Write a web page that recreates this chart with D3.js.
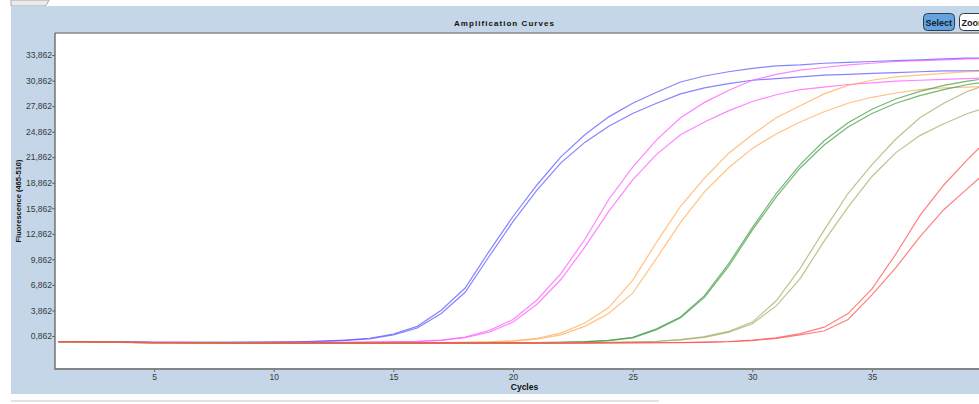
<!DOCTYPE html>
<html>
<head>
<meta charset="utf-8">
<script src="https://cdn.jsdelivr.net/npm/d3@7"></script>
<style>
  body { margin: 0; background: #ffffff; overflow: hidden; }
  svg { display: block; font-family: 'Liberation Sans', Arial, sans-serif; }
</style>
</head>
<body>
<svg id="chart" width="979" height="404"></svg>
<script>
// cycles on the x axis
var cycles = [1, 2, 3, 4, 5, 6, 7, 8, 9, 10, 11, 12, 13, 14, 15, 16, 17, 18, 19, 20,
  21, 22, 23, 24, 25, 26, 27, 28, 29, 30, 31, 32, 33, 34, 35, 36, 37, 38, 39, 40];

// fluorescence (465-510) per cycle, two replicates per sample
var blueA = [0.20, 0.19, 0.18, 0.14, 0.12, 0.12, 0.12, 0.13, 0.14, 0.16, 0.19, 0.26, 0.38, 0.60, 1.10, 2.00, 3.90, 6.50, 10.8, 14.9,
  18.6, 21.9, 24.5, 26.6, 28.2, 29.5, 30.7, 31.4, 31.9, 32.3, 32.6, 32.7, 32.9, 33.0, 33.1, 33.2, 33.3, 33.4, 33.5, 33.5];
var blueB = [0.21, 0.19, 0.17, 0.14, 0.12, 0.11, 0.11, 0.12, 0.13, 0.15, 0.18, 0.24, 0.35, 0.52, 1.00, 1.80, 3.50, 6.00, 10.2, 14.3,
  18.0, 21.2, 23.6, 25.5, 27.0, 28.2, 29.3, 30.0, 30.5, 30.9, 31.1, 31.3, 31.5, 31.6, 31.7, 31.8, 31.9, 32.0, 32.0, 32.1];
var magentaA = [0.20, 0.19, 0.17, 0.13, 0.11, 0.11, 0.10, 0.10, 0.10, 0.11, 0.11, 0.12, 0.13, 0.15, 0.18, 0.24, 0.38, 0.75, 1.50, 2.80,
  5.10, 8.20, 12.2, 16.9, 20.7, 23.9, 26.5, 28.3, 29.7, 30.9, 31.6, 32.1, 32.4, 32.7, 32.9, 33.1, 33.2, 33.3, 33.4, 33.5];
var magentaB = [0.19, 0.18, 0.16, 0.12, 0.10, 0.10, 0.09, 0.09, 0.09, 0.10, 0.10, 0.11, 0.12, 0.14, 0.17, 0.22, 0.34, 0.68, 1.30, 2.50,
  4.60, 7.50, 11.3, 15.5, 19.2, 22.2, 24.5, 26.0, 27.3, 28.4, 29.2, 29.8, 30.1, 30.4, 30.6, 30.8, 30.9, 31.0, 31.1, 31.2];
var orangeA = [0.19, 0.18, 0.15, 0.11, 0.08, 0.07, 0.07, 0.06, 0.06, 0.06, 0.06, 0.07, 0.07, 0.08, 0.08, 0.09, 0.10, 0.13, 0.18, 0.30,
  0.60, 1.20, 2.40, 4.20, 7.40, 11.9, 16.1, 19.4, 22.3, 24.5, 26.5, 27.9, 29.3, 30.3, 30.9, 31.3, 31.5, 31.7, 31.9, 32.0];
var orangeB = [0.18, 0.17, 0.14, 0.10, 0.07, 0.06, 0.06, 0.05, 0.05, 0.05, 0.06, 0.06, 0.06, 0.07, 0.07, 0.08, 0.09, 0.11, 0.16, 0.25,
  0.50, 1.00, 2.00, 3.50, 5.90, 10.0, 14.2, 17.8, 20.6, 22.9, 24.6, 26.0, 27.2, 28.2, 28.9, 29.4, 29.8, 30.0, 30.1, 30.2];
var greenA = [0.20, 0.19, 0.16, 0.12, 0.09, 0.08, 0.07, 0.06, 0.06, 0.06, 0.06, 0.06, 0.06, 0.06, 0.07, 0.07, 0.07, 0.08, 0.08, 0.09,
  0.10, 0.13, 0.20, 0.35, 0.70, 1.70, 3.10, 5.60, 9.30, 13.6, 17.6, 21.0, 23.8, 25.9, 27.5, 28.7, 29.6, 30.3, 30.8, 31.2];
var greenB = [0.19, 0.18, 0.15, 0.11, 0.08, 0.07, 0.06, 0.06, 0.05, 0.05, 0.05, 0.05, 0.05, 0.06, 0.06, 0.06, 0.07, 0.07, 0.08, 0.08,
  0.09, 0.12, 0.18, 0.32, 0.65, 1.60, 3.00, 5.40, 9.00, 13.3, 17.2, 20.6, 23.3, 25.4, 27.0, 28.2, 29.1, 29.8, 30.4, 30.8];
var oliveA = [0.18, 0.17, 0.14, 0.10, 0.07, 0.06, 0.05, 0.05, 0.05, 0.04, 0.04, 0.04, 0.05, 0.05, 0.05, 0.05, 0.06, 0.06, 0.06, 0.07,
  0.07, 0.08, 0.09, 0.11, 0.16, 0.25, 0.45, 0.80, 1.40, 2.50, 5.00, 8.80, 13.3, 17.6, 21.0, 24.0, 26.5, 28.2, 29.6, 30.6];
var oliveB = [0.17, 0.16, 0.13, 0.09, 0.06, 0.05, 0.05, 0.04, 0.04, 0.04, 0.04, 0.04, 0.04, 0.04, 0.05, 0.05, 0.05, 0.05, 0.06, 0.06,
  0.06, 0.07, 0.08, 0.10, 0.14, 0.22, 0.40, 0.70, 1.30, 2.30, 4.40, 7.60, 12.0, 16.0, 19.6, 22.4, 24.4, 25.8, 27.0, 27.9];
var redA = [0.22, 0.21, 0.18, 0.13, 0.09, 0.07, 0.06, 0.05, 0.04, 0.03, 0.03, 0.03, 0.03, 0.02, 0.02, 0.02, 0.02, 0.03, 0.03, 0.03,
  0.04, 0.04, 0.05, 0.06, 0.07, 0.08, 0.10, 0.14, 0.22, 0.38, 0.65, 1.15, 1.90, 3.50, 6.40, 10.5, 15.0, 18.6, 21.6, 24.4];
var redB = [0.21, 0.20, 0.17, 0.12, 0.08, 0.06, 0.05, 0.04, 0.03, 0.03, 0.02, 0.02, 0.02, 0.02, 0.02, 0.02, 0.02, 0.02, 0.02, 0.03,
  0.03, 0.03, 0.04, 0.05, 0.06, 0.07, 0.09, 0.12, 0.19, 0.33, 0.58, 1.00, 1.45, 2.80, 5.70, 8.90, 12.5, 15.7, 18.2, 20.7];

var seriesValues = [blueA, blueB, magentaA, magentaB, orangeA, orangeB, greenA, greenB, oliveA, oliveB, redA, redB];
var seriesColors = ['#5555ff', '#5555ff', '#ff55ff', '#ff55ff', '#ffaa55', '#ffaa55',
  '#3f9a3f', '#3f9a3f', '#a8a862', '#a8a862', '#ff4f4f', '#ff4f4f'];

var yTicks = [0.862, 3.862, 6.862, 9.862, 12.862, 15.862, 18.862, 21.862, 24.862, 27.862, 30.862, 33.862];
var xTicks = [5, 10, 15, 20, 25, 30, 35];

var svg = d3.select('#chart');

var plotLeft = 55, plotTop = 33, plotBottom = 369, plotRight = 994;

var x = d3.scaleLinear().domain([0.86, 40.1]).range([plotLeft, plotRight]);
var y = d3.scaleLinear().domain([-3.01, 36.45]).range([plotBottom, plotTop]);

// comma as decimal mark, like the instrument software
var locale = d3.formatLocale({ decimal: ',', thousands: '.', grouping: [3], currency: ['', ''] });
var fmt = locale.format('.3f');

// little tab at the top left
svg.append('path')
  .attr('d', 'M11,0 L11,6 L44,6 Q47,6 49,0 Z')
  .style('fill', '#ebebeb')
  .style('stroke', '#a8a8a8')
  .style('stroke-width', 1);

// blue panel
svg.append('rect')
  .attr('x', 11)
  .attr('y', 6)
  .attr('width', 990)
  .attr('height', 388)
  .style('fill', '#c4d6e7');

// bottom separator
svg.append('rect')
  .attr('x', 11)
  .attr('y', 400)
  .attr('width', 648)
  .attr('height', 2)
  .style('fill', '#e2e2e2');

svg.append('rect')
  .attr('x', plotLeft)
  .attr('y', plotTop)
  .attr('width', plotRight - plotLeft)
  .attr('height', plotBottom - plotTop)
  .style('fill', '#ffffff');

svg.append('clipPath')
  .attr('id', 'plot-clip')
  .append('rect')
  .attr('x', plotLeft)
  .attr('y', plotTop)
  .attr('width', plotRight - plotLeft)
  .attr('height', plotBottom - plotTop);

var line = d3.line()
  .x(function(d) { return x(d[0]); })
  .y(function(d) { return y(d[1]); });

svg.append('g')
  .attr('clip-path', 'url(#plot-clip)')
  .selectAll('.curve')
  .data(seriesValues)
  .enter()
  .append('path')
  .attr('class', 'curve')
  .attr('d', function(d) {
    return line(cycles.map(function(c, i) { return [c, d[i]]; }));
  })
  .style('fill', 'none')
  .style('stroke', function(d, i) { return seriesColors[i]; })
  .style('stroke-opacity', 0.72)
  .style('stroke-width', 1.2);

// axes
var yAxis = svg.append('g')
  .attr('transform', 'translate(' + plotLeft + ',0)')
  .call(d3.axisLeft(y).tickValues(yTicks).tickFormat(fmt).tickSize(3).tickSizeOuter(0));

var xAxis = svg.append('g')
  .attr('transform', 'translate(0,' + plotBottom + ')')
  .call(d3.axisBottom(x).tickValues(xTicks).tickFormat(d3.format('d')).tickSize(3).tickSizeOuter(0));

yAxis.select('.domain').remove();
xAxis.select('.domain').remove();

[yAxis, xAxis].forEach(function(a) {
  a.selectAll('text')
    .style('font-family', "'Liberation Sans', Arial, sans-serif")
    .style('font-size', '8.5px')
    .style('fill', '#3a3a3a');
  a.selectAll('line').style('stroke', '#666666');
});
xAxis.selectAll('text').attr('dy', '0.85em').attr('y', 4);
yAxis.selectAll('text').attr('x', -3);

svg.append('line')
  .attr('x1', plotLeft).attr('x2', 979)
  .attr('y1', plotTop).attr('y2', plotTop)
  .style('stroke', '#8a8a8a')
  .style('stroke-width', 1.5);

svg.append('line')
  .attr('x1', plotLeft).attr('x2', plotLeft)
  .attr('y1', plotTop).attr('y2', plotBottom)
  .style('stroke', '#555555')
  .style('stroke-width', 1.2);

svg.append('line')
  .attr('x1', plotLeft - 1).attr('x2', 979)
  .attr('y1', plotBottom).attr('y2', plotBottom)
  .style('stroke', '#858585')
  .style('stroke-width', 2);

// titles
svg.append('text')
  .attr('x', 504.5)
  .attr('y', 26)
  .style('text-anchor', 'middle')
  .style('font-size', '8px')
  .style('font-weight', 'bold')
  .style('letter-spacing', '1.05px')
  .style('fill', '#111111')
  .text('Amplification Curves');

svg.append('text')
  .attr('x', (plotLeft + plotRight) / 2)
  .attr('y', 390)
  .style('text-anchor', 'middle')
  .style('font-size', '8.5px')
  .style('font-weight', 'bold')
  .style('fill', '#111111')
  .text('Cycles');

svg.append('text')
  .attr('transform', 'translate(21,' + ((plotTop + plotBottom) / 2) + ') rotate(-90)')
  .style('text-anchor', 'middle')
  .style('font-size', '7.5px')
  .style('font-weight', 'bold')
  .style('fill', '#111111')
  .text('Fluorescence (465-510)');

// buttons
var buttons = [
  { label: 'Select', x: 923, w: 31, fill: '#64a3dd' },
  { label: 'Zoom', x: 959, w: 36, fill: '#ffffff' }
];

var button = svg.selectAll('.button')
  .data(buttons)
  .enter()
  .append('g')
  .attr('class', 'button');

button.append('rect')
  .attr('x', function(d) { return d.x + 0.5; })
  .attr('y', 13.5)
  .attr('width', function(d) { return d.w; })
  .attr('height', 17)
  .attr('rx', 4)
  .style('fill', function(d) { return d.fill; })
  .style('stroke', '#2c3e52')
  .style('stroke-width', 1);

button.append('text')
  .attr('x', function(d) { return d.x + 2.5; })
  .attr('y', 25.5)
  .style('font-size', '9px')
  .style('font-weight', 'bold')
  .style('fill', '#101c2a')
  .text(function(d) { return d.label; });
</script>
</body>
</html>
